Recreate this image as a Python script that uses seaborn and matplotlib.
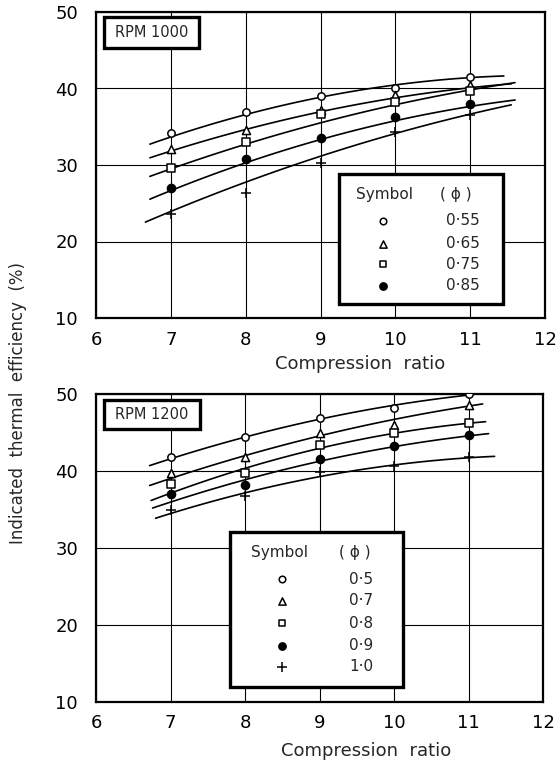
import numpy as np
import pandas as pd
import matplotlib
matplotlib.use("Agg")
import matplotlib.pyplot as plt
from matplotlib.patches import Rectangle
import seaborn as sns

# ---- data -------------------------------------------------------------
ratios = [7, 8, 9, 10, 11]

# RPM 1000: measured indicated thermal efficiency (%) per equivalence ratio
rpm1000_phi = ["0·55", "0·65", "0·75", "0·85", "extra"]
rpm1000_055 = [34.2, 36.9, 39.0, 40.0, 41.5]
rpm1000_065 = [32.1, 34.6, 37.2, 39.1, 40.4]
rpm1000_075 = [29.6, 33.0, 36.7, 38.3, 39.7]
rpm1000_085 = [27.0, 30.8, 33.5, 36.3, 38.0]
rpm1000_plus = [23.6, 26.3, 30.2, 34.3, 36.6]

# RPM 1000: smoothed trend curves at the same compression ratios
curve1000_055 = [33.6, 36.7, 38.9, 40.3, 41.5]
curve1000_065 = [31.8, 34.7, 36.9, 38.8, 40.1]
curve1000_075 = [29.5, 32.7, 35.5, 37.9, 39.8]
curve1000_085 = [26.7, 30.2, 33.3, 35.9, 37.6]
curve1000_plus = [23.9, 27.9, 30.9, 34.3, 36.6]

# RPM 1200: measured
rpm1200_phi = ["0·5", "0·7", "0·8", "0·9", "1·0"]
rpm1200_05 = [41.8, 44.4, 46.9, 48.2, 50.0]
rpm1200_07 = [39.7, 41.8, 44.9, 46.0, 48.6]
rpm1200_08 = [38.3, 39.7, 43.4, 45.0, 46.2]
rpm1200_09 = [37.0, 38.2, 41.5, 43.3, 44.7]
rpm1200_10 = [34.9, 36.8, 39.9, 40.7, 41.8]

# RPM 1200: smoothed trend curves
curve1200_05 = [41.6, 44.3, 46.9, 48.4, 49.9]
curve1200_07 = [39.1, 41.8, 44.7, 46.7, 48.4]
curve1200_08 = [37.3, 39.9, 43.2, 45.0, 46.1]
curve1200_09 = [36.1, 38.5, 41.5, 43.2, 44.5]
curve1200_10 = [34.6, 36.8, 39.6, 40.7, 41.7]

x_ticks = [6, 7, 8, 9, 10, 11, 12]
y_ticks = [10, 20, 30, 40, 50]

# ---- styling ------------------------------------------------------------
sns.set_theme(style="white")
plt.rcParams["font.family"] = ["DejaVu Sans"]

# marker style per series: (marker, facecolor, size)
styles = [("o", "white", 28), ("^", "white", 34), ("s", "white", 28),
          ("o", "black", 34), ("+", "black", 55)]

top_points = [rpm1000_055, rpm1000_065, rpm1000_075, rpm1000_085, rpm1000_plus]
top_curves = [curve1000_055, curve1000_065, curve1000_075, curve1000_085, curve1000_plus]
top_spans = [(6.72, 11.45), (6.72, 11.55), (6.72, 11.6), (6.72, 11.6), (6.66, 11.55)]

bot_points = [rpm1200_05, rpm1200_07, rpm1200_08, rpm1200_09, rpm1200_10]
bot_curves = [curve1200_05, curve1200_07, curve1200_08, curve1200_09, curve1200_10]
bot_spans = [(6.72, 11.0), (6.72, 11.19), (6.74, 11.23), (6.76, 11.27), (6.8, 11.35)]

W, H = 560, 765
fig = plt.figure(figsize=(W / 100, H / 100), dpi=100)


def add_axes_px(left, top, right, bottom):
    return fig.add_axes([left / W, 1 - bottom / H, (right - left) / W, (bottom - top) / H])


ax_top = add_axes_px(96, 12, 545, 318)
ax_bot = add_axes_px(96, 394, 543, 702)


def draw_panel(ax, points, curves, spans):
    for vals, cvals, span, (m, fc, s) in zip(points, curves, spans, styles):
        # smooth second-order curve through the trend values, extended a little
        coef = np.polyfit(ratios, cvals, 2)
        xs = np.linspace(span[0], span[1], 80)
        fit = pd.DataFrame({"ratio": xs, "eff": np.polyval(coef, xs)})
        sns.lineplot(data=fit, x="ratio", y="eff", color="black", lw=1.2,
                     ax=ax, zorder=3)
        pts = pd.DataFrame({"ratio": ratios, "eff": vals})
        if m == "+":
            sns.scatterplot(data=pts, x="ratio", y="eff", marker=m, s=s,
                            color="black", linewidth=1.1, ax=ax, zorder=4)
        else:
            sns.scatterplot(data=pts, x="ratio", y="eff", marker=m, s=s,
                            facecolor=fc, edgecolor="black", linewidth=1.1,
                            ax=ax, zorder=4)

    ax.set_xlim(6, 12)
    ax.set_ylim(10, 50)
    ax.set_xticks(x_ticks)
    ax.set_yticks(y_ticks)
    ax.set_xticklabels([str(t) for t in x_ticks])
    ax.set_yticklabels([str(t) for t in y_ticks])
    ax.grid(True, color="black", lw=0.8)
    ax.set_axisbelow(True)
    for sp in ax.spines.values():
        sp.set_visible(True)
        sp.set_color("black")
        sp.set_linewidth(1.6)
    ax.tick_params(axis="both", length=0, labelsize=13, colors="black")
    ax.tick_params(axis="x", pad=9)
    ax.tick_params(axis="y", pad=13)
    ax.set_xlabel("")
    ax.set_ylabel("")


def draw_key(ax, box, header_y, row_ys, marker_x, sym_x, phi_x, labels, n):
    x0, y0, x1, y1 = box
    ax.add_patch(Rectangle((x0, y0), x1 - x0, y1 - y0, transform=ax.transAxes,
                           facecolor="white", edgecolor="black", lw=2.4,
                           zorder=6, clip_on=False))
    ax.text(sym_x, header_y, "Symbol", transform=ax.transAxes, ha="center",
            va="center", fontsize=11, zorder=7)
    ax.text(phi_x, header_y, "( ϕ )", transform=ax.transAxes, ha="center",
            va="center", fontsize=11, zorder=7)
    for i in range(n):
        m, fc, s = styles[i]
        if m == "+":
            ax.scatter([marker_x], [row_ys[i]], marker=m, s=s * 0.8, color="black",
                       linewidth=1.1, transform=ax.transAxes, zorder=7)
        else:
            ax.scatter([marker_x], [row_ys[i]], marker=m, s=s * 0.8, facecolor=fc,
                       edgecolor="black", linewidth=1.1, transform=ax.transAxes,
                       zorder=7)
        ax.text(phi_x + 0.015, row_ys[i], labels[i], transform=ax.transAxes,
                ha="center", va="center", fontsize=11, zorder=7)


def draw_rpm(ax, box, text):
    x0, y0, x1, y1 = box
    ax.add_patch(Rectangle((x0, y0), x1 - x0, y1 - y0, transform=ax.transAxes,
                           facecolor="white", edgecolor="black", lw=2.4,
                           zorder=6))
    ax.text((x0 + x1) / 2, (y0 + y1) / 2, text, transform=ax.transAxes,
            ha="center", va="center", fontsize=10.5, zorder=7)


draw_panel(ax_top, top_points, top_curves, top_spans)
draw_panel(ax_bot, bot_points, bot_curves, bot_spans)

draw_key(ax_top, (0.541, 0.046, 0.906, 0.471), 0.402,
         [0.317, 0.242, 0.176, 0.105], 0.639, 0.643, 0.802, rpm1000_phi, 4)
draw_key(ax_bot, (0.300, 0.049, 0.687, 0.552), 0.484,
         [0.399, 0.328, 0.256, 0.182, 0.114], 0.416, 0.410, 0.579, rpm1200_phi, 5)

draw_rpm(ax_top, (0.018, 0.882, 0.229, 0.984), "RPM 1000")
draw_rpm(ax_bot, (0.018, 0.886, 0.233, 0.981), "RPM 1200")

fig.text(360 / W, 1 - 364 / H, "Compression  ratio", ha="center", va="center",
         fontsize=13)
fig.text(366 / W, 1 - 751 / H, "Compression  ratio", ha="center", va="center",
         fontsize=13)
fig.text(18 / W, 1 - 403 / H, "Indicated  thermal  efficiency  (%)", rotation=90,
         ha="center", va="center", fontsize=12)

fig.savefig("out.png", dpi=100, facecolor="white")
